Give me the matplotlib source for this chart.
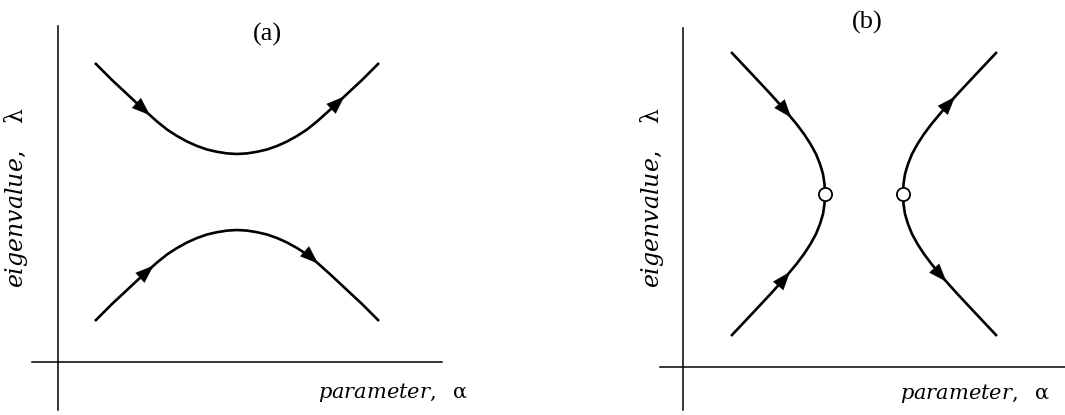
import numpy as np
import matplotlib
matplotlib.use("Agg")
import matplotlib.pyplot as plt

plt.rcParams['font.family'] = ['Liberation Serif', 'DejaVu Serif']
plt.rcParams['mathtext.fontset'] = 'dejavuserif'

# (a) avoided crossing: half-branch offsets from the centre and rise away from the gap
a_center = 1.79
a_upper_vertex = 2.08
a_lower_vertex = 1.32
a_offset = [0.0, 0.1, 0.2, 0.3, 0.4, 0.5, 0.6, 0.7, 0.8, 0.95, 1.1, 1.25, 1.42]
a_rise = [0.0, 0.006, 0.022, 0.045, 0.08, 0.125, 0.18, 0.245, 0.325, 0.46, 0.60, 0.74, 0.91]
# arrow tips (alpha, lambda)
a_arrows = [(0.94, 2.49), (2.87, 2.65), (0.95, 0.97), (2.57, 0.95)]

# (b) branches meeting the real axis: lambda offset from the vertex and alpha pull-back
b_vertex_alpha = [1.42, 2.20]
b_vertex_lambda = [1.73, 1.73]
b_rise = [0.0, 0.1, 0.2, 0.3, 0.4, 0.5, 0.6, 0.7, 0.85, 1.0, 1.15, 1.41]
b_pull = [0.0, 0.005, 0.02, 0.05, 0.09, 0.145, 0.21, 0.285, 0.41, 0.545, 0.685, 0.93]
b_arrows = [(1.09, 2.50), (1.07, 0.95), (2.70, 2.72), (2.62, 0.84)]

xlabel = r"$\mathit{parameter,}\ \ \mathrm{\alpha}$"
ylabel = r"$\mathit{eigenvalue,}\ \ \ \mathrm{\lambda}$"
titles = ["(a)", "(b)"]

W, H = 1065, 415
fig = plt.figure(figsize=(W / 100, H / 100), dpi=100)


def make_axes(x0, x1, y0, y1, ox, oy):
    # pixel box -> axes, with 100 px per unit and origin at (ox, oy)
    ax = fig.add_axes([x0 / W, 1 - y1 / H, (x1 - x0) / W, (y1 - y0) / H])
    ax.set_xlim(-(ox - x0) / 100, (x1 - ox) / 100)
    ax.set_ylim(-(y1 - oy) / 100, (oy - y0) / 100)
    for s in ['top', 'right']:
        ax.spines[s].set_visible(False)
    for s in ['left', 'bottom']:
        ax.spines[s].set_position(('data', 0))
        ax.spines[s].set_linewidth(1.1)
    ax.set_xticks([])
    ax.set_yticks([])
    ax.patch.set_alpha(0)
    return ax


def add_arrows(ax, branches, tips):
    for tx, ty in tips:
        best = None
        for bx, by in branches:
            for i in range(len(bx) - 1):
                p = np.array([bx[i], by[i]])
                d = np.array([bx[i + 1], by[i + 1]]) - p
                t = np.clip(np.dot([tx, ty] - p, d) / np.dot(d, d), 0, 1)
                q = p + t * d
                dist = np.hypot(*(q - [tx, ty]))
                if best is None or dist < best[0]:
                    best = (dist, q, d)
        _, q, d = best
        u = d / np.hypot(*d)
        if u[0] < 0:
            u = -u
        ax.annotate("", xy=q, xytext=q - 0.12 * u,
                    arrowprops=dict(arrowstyle='-|>,head_length=0.65,head_width=0.24',
                                    mutation_scale=20, color='black', lw=0.1,
                                    shrinkA=0, shrinkB=0))


# ---- (a)
ax1 = make_axes(32, 442, 26, 410, 58, 362)
off = np.array(a_offset)
rise = np.array(a_rise)
a_alpha = np.concatenate([a_center - off[::-1], a_center + off[1:]])
a_dy = np.concatenate([rise[::-1], rise[1:]])
upper = a_upper_vertex + a_dy
lower = a_lower_vertex - a_dy
ax1.plot(a_alpha, upper, color='black', lw=1.9, solid_capstyle='butt')
ax1.plot(a_alpha, lower, color='black', lw=1.9, solid_capstyle='butt')
add_arrows(ax1, [(a_alpha, upper), (a_alpha, lower)], a_arrows)

ax1.text(2.09, 3.28, titles[0], fontsize=19, ha='center', va='center')
ax1.text(4.10, -0.30, xlabel, fontsize=15, ha='right', va='center', clip_on=False)
ax1.text(-0.42, 1.64, ylabel, fontsize=17, rotation=90,
         ha='center', va='center', clip_on=False)

# ---- (b)
ax2 = make_axes(660, 1065, 28, 410, 683, 367)
br = np.array(b_rise)
bp = np.array(b_pull)
lam = np.concatenate([-br[::-1], br[1:]])
pull = np.concatenate([bp[::-1], bp[1:]])
left_alpha = b_vertex_alpha[0] - pull
right_alpha = b_vertex_alpha[1] + pull
left_lam = b_vertex_lambda[0] + lam
right_lam = b_vertex_lambda[1] + lam
ax2.plot(left_alpha, left_lam, color='black', lw=1.9)
ax2.plot(right_alpha, right_lam, color='black', lw=1.9)
add_arrows(ax2, [(left_alpha, left_lam), (right_alpha, right_lam)], b_arrows)
ax2.plot(b_vertex_alpha, b_vertex_lambda, 'o', ms=9.5, mfc='white', mec='black',
         mew=1.3, zorder=4)

ax2.text(1.84, 3.45, titles[1], fontsize=19, ha='center', va='center', clip_on=False)
ax2.text(3.67, -0.26, xlabel, fontsize=15, ha='right', va='center', clip_on=False)
ax2.text(-0.31, 1.69, ylabel, fontsize=17, rotation=90,
         ha='center', va='center', clip_on=False)

fig.savefig("out.png", dpi=100)
